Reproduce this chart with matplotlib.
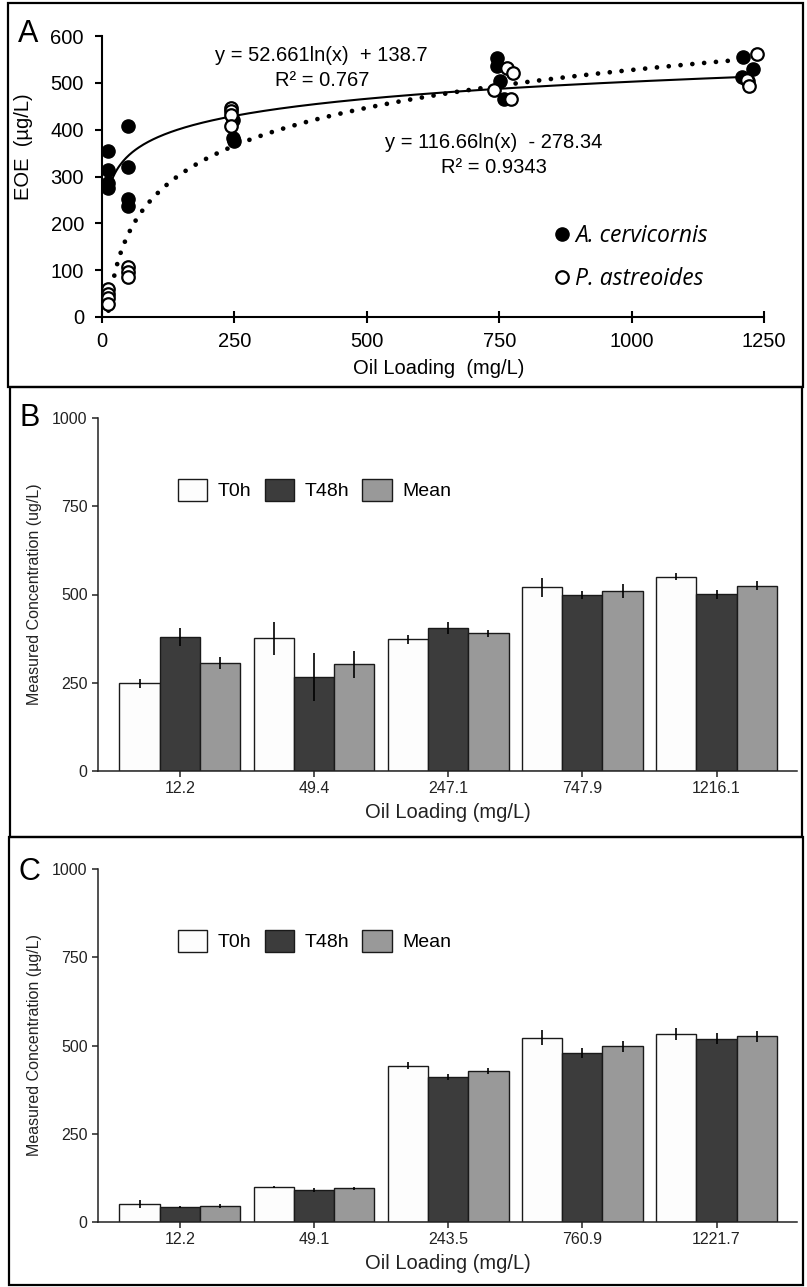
import numpy as np
import matplotlib
matplotlib.use("Agg")
import matplotlib.pyplot as plt
from matplotlib.patches import Rectangle
from matplotlib.lines import Line2D

plt.rcParams['font.family'] = ['Liberation Sans', 'DejaVu Sans']

# ---------------- Panel A data ----------------
acer_x = [11.5, 11.5, 11.5, 11.5, 49.4, 49.4, 49.4, 49.4, 248, 248, 250,
          745, 746, 751, 759, 1211, 1230, 1208, 1220]
acer_y = [354, 314, 287, 275, 407, 320, 252, 236, 421, 382, 375,
          554, 536, 504, 466, 556, 529, 513, 504]
past_x = [11.5, 11.5, 11.5, 11.5, 49.1, 49.1, 49.1, 243.5, 243.5, 243.5, 243.5,
          764, 777, 741, 773, 1236, 1217, 1222]
past_y = [60, 50, 40, 28, 106, 96, 86, 446, 439, 432, 407,
          532, 520, 484, 466, 561, 507, 494]
fit_acer = (52.661, 138.7)
fit_past = (116.66, -278.34)
a_xticks = [0, 250, 500, 750, 1000, 1250]
a_yticks = [0, 100, 200, 300, 400, 500, 600]

# ---------------- Panel B data ----------------
b_cats = ["12.2", "49.4", "247.1", "747.9", "1216.1"]
b_t0 = [248, 376, 373, 520, 550]
b_t0_err = [14, 46, 12, 28, 10]
b_t48 = [380, 265, 406, 498, 501]
b_t48_err = [25, 68, 17, 12, 13]
b_mean = [305, 302, 390, 510, 525]
b_mean_err = [17, 39, 10, 19, 12]

# ---------------- Panel C data ----------------
c_cats = ["12.2", "49.1", "243.5", "760.9", "1221.7"]
c_t0 = [50, 99, 443, 522, 533]
c_t0_err = [11, 3, 9, 21, 17]
c_t48 = [42, 91, 410, 479, 519]
c_t48_err = [3, 5, 8, 14, 16]
c_mean = [45, 95, 427, 498, 526]
c_mean_err = [5, 3, 8, 16, 15]
bar_yticks = [0, 250, 500, 750, 1000]
series_names = ["T0h", "T48h", "Mean"]
series_colors = ["#fdfdfd", "#3c3c3c", "#999999"]

W, H = 807, 1287
fig = plt.figure(figsize=(W / 100, H / 100), dpi=100)


def fx(px):
    return px / W


def fy(py):
    return 1 - py / H


# panel borders
for (x0, y0, x1, y1) in [(8, 3, 803, 387), (10, 387, 802, 837), (9, 837, 803, 1285)]:
    fig.add_artist(Rectangle((fx(x0), fy(y1)), fx(x1) - fx(x0), fy(y0) - fy(y1),
                             transform=fig.transFigure, fill=False,
                             edgecolor='black', linewidth=1.6))

# ---------------- Panel A ----------------
FA = 14.5
axA = fig.add_axes([fx(102), fy(317), fx(764) - fx(102), fy(36) - fy(317)])
axA.set_xlim(0, 1250)
axA.set_ylim(0, 600)
for s in ['top', 'right']:
    axA.spines[s].set_visible(False)
for s in ['left', 'bottom']:
    axA.spines[s].set_linewidth(1.5)
axA.set_xticks(a_xticks)
axA.set_yticks(a_yticks)
axA.tick_params(axis='y', direction='out', length=5, width=1.5, labelsize=FA, pad=8)
axA.tick_params(axis='x', direction='inout', length=8, width=1.5, labelsize=FA, pad=7)
axA.spines['left'].set_bounds(0, 600)
axA.spines['bottom'].set_bounds(0, 1250)

xs = np.linspace(12.2, 1216.1, 400)
axA.plot(xs, fit_acer[0] * np.log(xs) + fit_acer[1], color='black', lw=1.5, zorder=2)
xs2 = np.linspace(12.2, 1221.7, 400)
axA.plot(xs2, fit_past[0] * np.log(xs2) + fit_past[1], color='black', lw=3.4,
         linestyle=(0, (0.01, 2.5)), dash_capstyle='round', zorder=2)

axA.plot(acer_x, acer_y, 'o', color='black', markersize=9.5, zorder=3, clip_on=False)
axA.plot(past_x, past_y, 'o', markerfacecolor='white', markeredgecolor='black',
         markeredgewidth=1.6, markersize=9, zorder=4, clip_on=False)

axA.text(415, 559, "y = 52.661ln(x)  + 138.7", ha='center', va='center', fontsize=FA)
axA.text(415, 506, "R² = 0.767", ha='center', va='center', fontsize=FA)
axA.text(740, 372, "y = 116.66ln(x)  - 278.34", ha='center', va='center', fontsize=FA)
axA.text(740, 320, "R² = 0.9343", ha='center', va='center', fontsize=FA)

axA.set_xlabel("Oil Loading  (mg/L)", fontsize=FA)
axA.xaxis.set_label_coords(0.509, -0.148)
axA.set_ylabel("EOE  (µg/L)", fontsize=FA)
axA.yaxis.set_label_coords(-0.104, 0.605)

hA = [Line2D([], [], marker='o', linestyle='none', color='black', markersize=9.5),
      Line2D([], [], marker='o', linestyle='none', markerfacecolor='white',
             markeredgecolor='black', markeredgewidth=1.6, markersize=9)]
axA.legend(hA, ["A. cervicornis", "P. astreoides"], loc='center left',
           bbox_to_anchor=(0.684, 0.212), frameon=False, handlelength=0.6,
           handletextpad=0.3, labelspacing=0.8, borderpad=0, borderaxespad=0,
           prop={'family': 'Open Sans', 'style': 'italic', 'size': 16.5})

fig.text(fx(18), fy(42), "A", fontsize=22, ha='left', va='baseline')


# ---------------- Bar panels ----------------
def bar_panel(top_px, bottom_px, cats, vals, errs, ylab, letter, letter_base):
    ax = fig.add_axes([fx(98), fy(bottom_px), fx(797) - fx(98), fy(top_px) - fy(bottom_px)])
    x = np.arange(len(cats))
    offs = [-0.3, 0.0, 0.3]
    for i in range(3):
        ax.bar(x + offs[i], vals[i], width=0.3, color=series_colors[i],
               edgecolor='#1a1a1a', linewidth=1.0, label=series_names[i], zorder=2)
        ax.errorbar(x + offs[i], vals[i], yerr=errs[i], fmt='none', ecolor='black',
                    elinewidth=1.2, capsize=0, zorder=3)
    ax.set_xlim(-0.61, 4.6)
    ax.set_ylim(0, 1000)
    ax.set_yticks(bar_yticks)
    ax.set_xticks(x)
    ax.set_xticklabels(cats)
    for s in ['top', 'right']:
        ax.spines[s].set_visible(False)
    for s in ['left', 'bottom']:
        ax.spines[s].set_linewidth(1.1)
        ax.spines[s].set_color('#222222')
    ax.tick_params(axis='both', direction='out', length=4.5, width=1.1,
                   labelsize=11.5, colors='#222222', pad=3)
    ax.set_xlabel("Oil Loading (mg/L)", fontsize=14.5, color='#222222')
    ax.xaxis.set_label_coords(0.5, -0.092)
    ax.set_ylabel(ylab, fontsize=11.5, color='#222222')
    ax.yaxis.set_label_coords(-0.08, 0.5)
    ax.legend(loc='center left', bbox_to_anchor=(0.114, 0.796), ncol=3, frameon=False,
              fontsize=14, handlelength=1.5, handleheight=1.4, handletextpad=0.57,
              columnspacing=0.67, borderpad=0, borderaxespad=0)
    fig.text(fx(19), fy(letter_base), letter, fontsize=22, ha='left', va='baseline')
    return ax


bar_panel(418, 771, b_cats, [b_t0, b_t48, b_mean], [b_t0_err, b_t48_err, b_mean_err],
          "Measured Concentration (ug/L)", "B", 426)
bar_panel(869, 1222, c_cats, [c_t0, c_t48, c_mean], [c_t0_err, c_t48_err, c_mean_err],
          "Measured Concentration (µg/L)", "C", 880)

fig.savefig("out.png", dpi=100)
